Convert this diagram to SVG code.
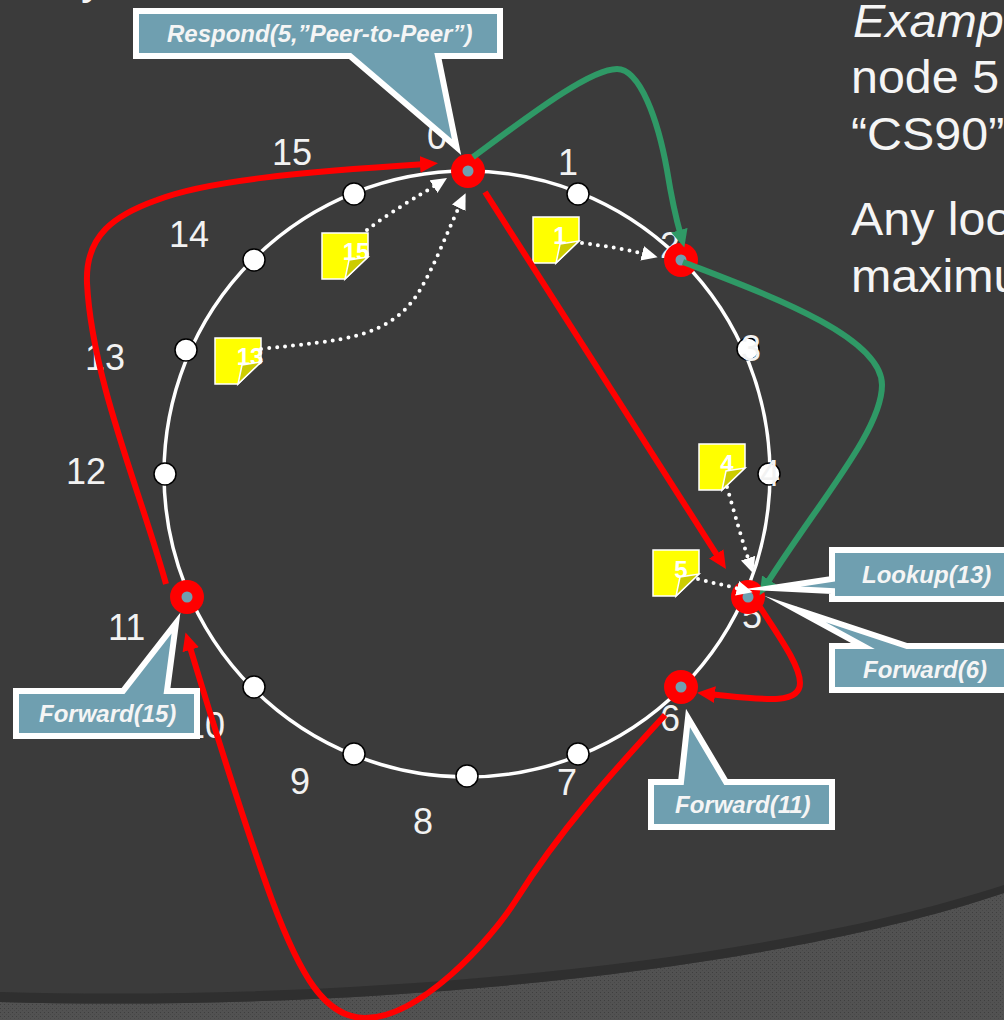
<svg xmlns="http://www.w3.org/2000/svg" width="1004" height="1020" viewBox="0 0 1004 1020">
<style>
text{font-family:"Liberation Sans",Arial,sans-serif}
.lbl{font-size:36px;fill:#f2f2f2}
.body{font-size:47px;fill:#f5f5f5}
.co{fill:#6f9fb0;stroke:#fff;stroke-width:6;stroke-miterlimit:20;stroke-linejoin:miter}
.cot{font-size:24px;font-weight:bold;font-style:italic;fill:#f5f5f5}
.wn{fill:#fff;stroke:#000;stroke-width:1.5}
.rn{fill:#f00}
.rc{fill:#6f9fb0}
.note{fill:#ff0;stroke:#fff;stroke-width:1.5}
.fold{fill:#cccc00;stroke:#fff;stroke-width:1.5}
.nt{font-size:24px;font-weight:bold;fill:#fff;text-anchor:middle}
.red{fill:none;stroke:#f00;stroke-width:6;marker-end:url(#ar)}
.grn{fill:none;stroke:#2f9966;stroke-width:6;marker-end:url(#ag)}
.dot{fill:none;stroke:#fff;stroke-width:4;stroke-linecap:round;stroke-dasharray:0 8;marker-end:url(#aw)}
</style>
<defs>
<pattern id="dith" width="4" height="4" patternUnits="userSpaceOnUse">
<rect width="4" height="4" fill="#525252"/>
<rect x="0" y="0" width="1" height="1" fill="#3e3e3e"/>
<rect x="2" y="2" width="1" height="1" fill="#484848"/>
</pattern>
<marker id="ar" markerUnits="userSpaceOnUse" markerWidth="20" markerHeight="20" refX="6" refY="9" orient="auto"><path d="M0,0.5L18,9L0,17.5Z" fill="#f00"/></marker>
<marker id="ag" markerUnits="userSpaceOnUse" markerWidth="20" markerHeight="20" refX="6" refY="9" orient="auto"><path d="M0,0.5L18,9L0,17.5Z" fill="#2f9966"/></marker>
<marker id="aw" markerUnits="userSpaceOnUse" markerWidth="20" markerHeight="20" refX="3" refY="8" orient="auto"><path d="M0,0.5L16,8L0,15.5Z" fill="#fff"/></marker>
</defs>
<rect id="bg" width="1004" height="1020" fill="#3b3b3b"/>
<path d="M0,1002C350,1012 760,975 1004,893V1020H0Z" fill="url(#dith)"/>
<path d="M0,992C350,1002 760,965 1004,885V893C760,975 350,1012 0,1002Z" fill="#2f2f2f"/>

<g id="texts">
<text class="body" x="81" y="-7">y</text>
<text class="body" transform="translate(853,37) scale(1.03,1)" font-style="italic">Examp</text>
<text class="body" transform="translate(851,93) scale(1.03,1)">node 5</text>
<text class="body" transform="translate(851,150) scale(1.03,1)">“CS90”</text>
<text class="body" transform="translate(851,235) scale(1.03,1)">Any loo</text>
<text class="body" transform="translate(851,292) scale(1.03,1)">maximu</text>
</g>

<circle id="ring" cx="467" cy="474" r="303" fill="none" stroke="#fff" stroke-width="3.5"/>

<g id="nodes-plain">
<circle id="n1" class="wn" cx="578" cy="194" r="11"/>
<circle id="n3" class="wn" cx="748" cy="349" r="11"/>
<circle id="n4" class="wn" cx="769" cy="474" r="11"/>
<circle id="n7" class="wn" cx="578" cy="754" r="11"/>
<circle id="n8" class="wn" cx="467" cy="776" r="11"/>
<circle id="n9" class="wn" cx="354" cy="754" r="11"/>
<circle id="n10" class="wn" cx="254" cy="687" r="11"/>
<circle id="n12" class="wn" cx="165" cy="474" r="11"/>
<circle id="n13" class="wn" cx="186" cy="350" r="11"/>
<circle id="n14" class="wn" cx="254" cy="260" r="11"/>
<circle id="n15" class="wn" cx="354" cy="194" r="11"/>
</g>

<g id="labels">
<text class="lbl" x="427" y="149">0</text>
<text class="lbl" x="558" y="175">1</text>
<text class="lbl" x="660" y="258">2</text>
<text class="lbl" x="741" y="361">3</text>
<text class="lbl" x="760" y="486">4</text>
<text class="lbl" x="742" y="628">5</text>
<text class="lbl" x="660" y="731">6</text>
<text class="lbl" x="557" y="795">7</text>
<text class="lbl" x="413" y="834">8</text>
<text class="lbl" x="290" y="794">9</text>
<text class="lbl" x="185" y="738">10</text>
<text class="lbl" x="108" y="640">11</text>
<text class="lbl" x="66" y="484">12</text>
<text class="lbl" x="85" y="370">13</text>
<text class="lbl" x="169" y="247">14</text>
<text class="lbl" x="272" y="165">15</text>
</g>

<g id="nodes-active">
<g id="n0"><circle class="rn" cx="468" cy="171" r="17"/><circle class="rc" cx="468" cy="171" r="5.5"/></g>
<g id="n2"><circle class="rn" cx="681" cy="260" r="17"/><circle class="rc" cx="681" cy="260" r="5.5"/></g>
<g id="n5"><circle class="rn" cx="748" cy="597" r="17"/><circle class="rc" cx="748" cy="597" r="5.5"/></g>
<g id="n6"><circle class="rn" cx="681" cy="687" r="17"/><circle class="rc" cx="681" cy="687" r="5.5"/></g>
<g id="n11"><circle class="rn" cx="187" cy="597" r="17"/><circle class="rc" cx="187" cy="597" r="5.5"/></g>
</g>

<g id="notes">
<g id="note15" transform="translate(322,233)"><path class="note" d="M0,0H46V24L23,46H0Z"/><text class="nt" x="34" y="27">15</text><path class="fold" d="M46,24L23,46L27,27Z"/></g>
<g id="note1" transform="translate(533,217)"><path class="note" d="M0,0H46V24L23,46H0Z"/><text class="nt" x="27" y="27">1</text><path class="fold" d="M46,24L23,46L27,27Z"/></g>
<g id="note13" transform="translate(215,338)"><path class="note" d="M0,0H46V24L23,46H0Z"/><text class="nt" x="35" y="27">13</text><path class="fold" d="M46,24L23,46L27,27Z"/></g>
<g id="note4" transform="translate(699,444)"><path class="note" d="M0,0H46V24L23,46H0Z"/><text class="nt" x="28" y="28">4</text><path class="fold" d="M46,24L23,46L27,27Z"/></g>
<g id="note5" transform="translate(653,550)"><path class="note" d="M0,0H46V24L23,46H0Z"/><text class="nt" x="28" y="28">5</text><path class="fold" d="M46,24L23,46L27,27Z"/></g>
</g>

<g id="connectors">
<path class="red" d="M166,584C140,490 92,380 87,283C85,235 115,215 157,200C205,181 300,172 426,164"/>
<path class="red" d="M485,192L719.5,559"/>
<path class="red" d="M760,607C778,635 800,665 800,683C800,706 760,699 709,694"/>
<path class="red" d="M665,715C610,775 560,830 516,900C490,941 420,1018 365,1018C325,1018 300,975 272,900C250,840 215,730 189,644"/>
<path class="grn" d="M473,157C530,115 590,69 617,69C640,69 658,120 667,170C671,195 675,215 681,236"/>
<path class="grn" d="M683,262C760,292 882,335 882,385C882,430 820,500 766,585"/>
<path class="dot" d="M367,230C390,212 420,195 436,185"/>
<path class="dot" d="M261,349C340,340 390,340 420,290C435,265 448,230 460,205"/>
<path class="dot" d="M582,243C605,246 625,249 645,254"/>
<path class="dot" d="M727,487C735,515 742,540 749,561"/>
<path class="dot" d="M698,579C712,583 725,585 740,589"/>
</g>

<g id="callouts">
<g id="c-respond"><path class="co" d="M136,11H500V56H438L456.5,147L350,56H136Z"/><text class="cot" x="167" y="42">Respond(5,”Peer-to-Peer”)</text></g>
<g id="c-lookup"><path class="co" d="M832,550H1010V599H832V591L772,588L832,579Z"/><text class="cot" x="862" y="583">Lookup(13)</text></g>
<g id="c-f6"><path class="co" d="M832,646H863L795,609L907,646H1010V690H832Z"/><text class="cot" x="863" y="678">Forward(6)</text></g>
<g id="c-f11"><path class="co" d="M651,782H681L688,718L726,782H832V827H651Z"/><text class="cot" x="675" y="813">Forward(11)</text></g>
<g id="c-f15"><path class="co" d="M16,691H123L176,623L167,691H197V736H16Z"/><text class="cot" x="39" y="722">Forward(15)</text></g>
</g>
</svg>
